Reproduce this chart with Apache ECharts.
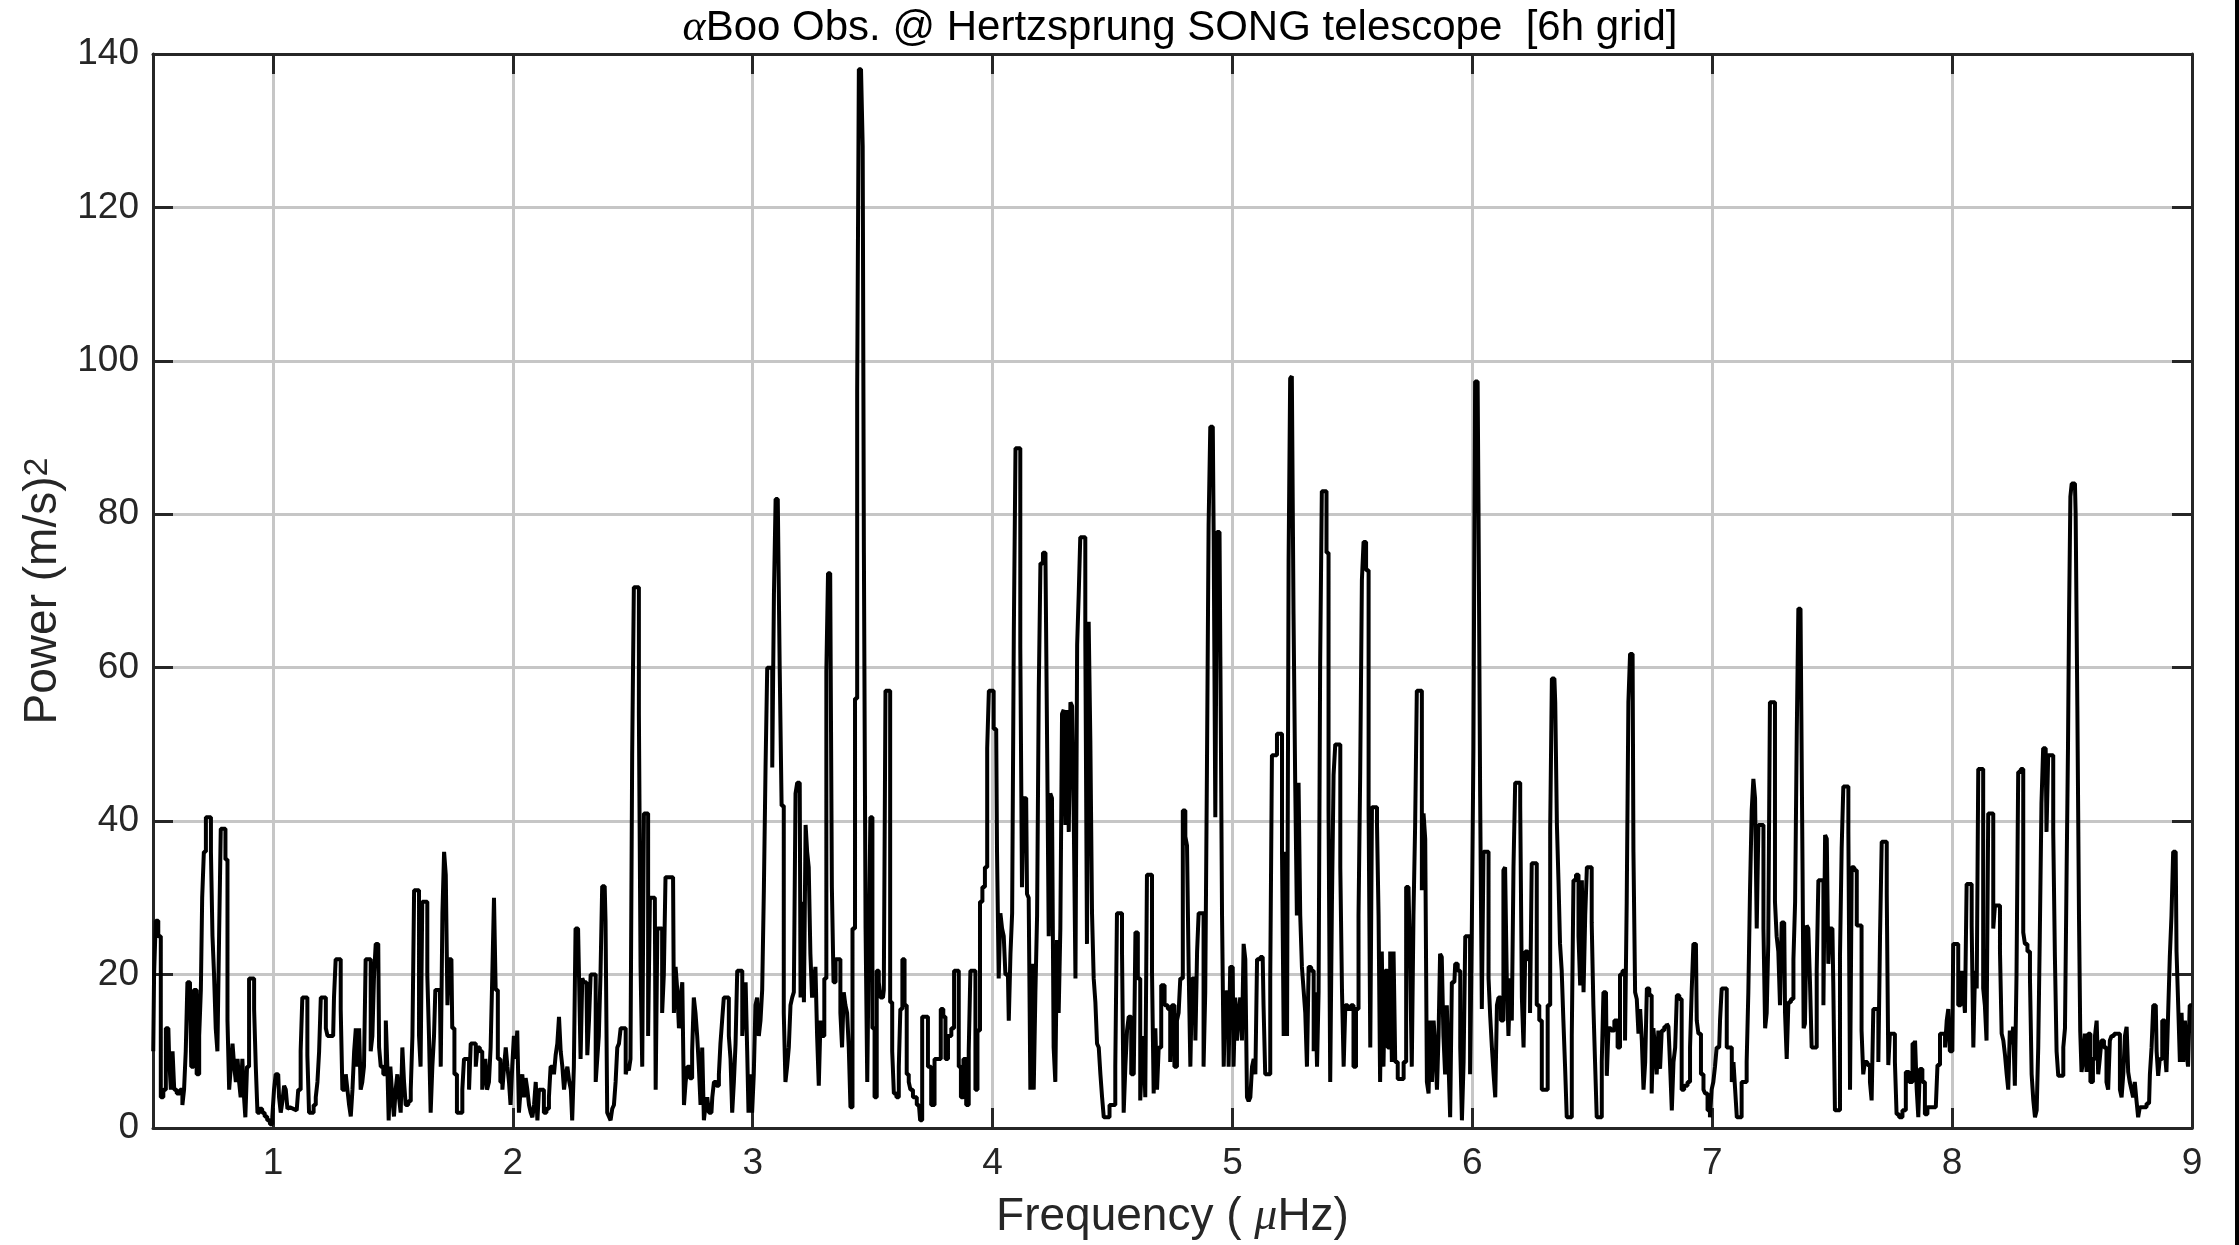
<!DOCTYPE html>
<html><head><meta charset="utf-8">
<script src="https://cdn.jsdelivr.net/npm/echarts@6/dist/echarts.min.js"></script>
<style>html,body{margin:0;padding:0;background:#fff}#c{width:2239px;height:1245px}</style>
</head><body><div id="c"></div>
<script>
const xTicks = [1, 2, 3, 4, 5, 6, 7, 8, 9];
const yTicks = [0, 20, 40, 60, 80, 100, 120, 140];
const xLabel = 'Frequency ( {mu|μ}Hz)';
const yLabel = 'Power (m/s){sup|2}';
// [frequency (µHz), power (m/s)^2]
const powerSpectrum = [
[0.501,10],[0.508,20],[0.515,27],[0.529,25],[0.536,4],[0.550,5],[0.557,13],[0.564,13],[0.571,9],[0.578,5],[0.585,10],[0.592,5],[0.606,4.5],[0.619,5],[0.626,3],[0.633,5],[0.640,10],[0.647,19],[0.654,19],[0.665,8],[0.675,18],[0.689,7],[0.696,12],[0.703,18],[0.707,30],[0.717,36],[0.724,40.5],[0.738,40.5],[0.745,36],[0.751,25],[0.758,20],[0.765,13],[0.772,10],[0.779,25],[0.786,39],[0.797,39],[0.807,35],[0.814,14],[0.821,5],[0.828,8],[0.835,11],[0.842,8],[0.849,6],[0.856,9],[0.862,6],[0.869,4],[0.876,9],[0.883,4],[0.887,1.4],[0.897,8],[0.904,19.5],[0.918,19.5],[0.925,15.5],[0.932,8],[0.939,2],[0.950,2.5],[0.960,2],[0.971,1.5],[0.981,1],[0.994,0.5],[1.001,1.5],[1.008,5],[1.015,7],[1.022,7],[1.029,4],[1.036,2],[1.043,3.5],[1.050,5.5],[1.057,5],[1.064,2.5],[1.071,2.7],[1.085,2.5],[1.099,2.3],[1.112,5],[1.119,10],[1.126,17],[1.140,17],[1.147,9.5],[1.154,2],[1.164,2],[1.175,3],[1.182,4],[1.189,6],[1.196,10],[1.203,17],[1.217,17],[1.224,13],[1.231,12],[1.251,12],[1.258,17],[1.265,22],[1.279,22],[1.286,15.5],[1.293,5],[1.300,5],[1.307,7],[1.314,5],[1.321,3],[1.328,1.5],[1.335,5],[1.342,10],[1.349,13],[1.356,8],
[1.3625,13],[1.369,5],[1.376,6],[1.383,8],[1.390,22],[1.404,22],[1.411,10],[1.418,12],[1.425,20],[1.432,24],[1.439,24],[1.446,10.5],[1.453,8],[1.467,7],[1.474,14],[1.480,8],[1.485,1],[1.494,8],[1.501,4],[1.508,1.5],[1.515,5],[1.522,7],[1.529,4],[1.536,2],[1.543,10.5],[1.550,6],[1.557,3],[1.571,3.5],[1.578,5],[1.585,12],[1.592,31],[1.606,31],[1.612,12],[1.619,8],[1.626,29.5],[1.640,29.5],[1.647,20],[1.654,12],[1.661,2],[1.668,8],[1.675,12],[1.679,18],[1.696,18],[1.703,8],[1.710,28],[1.717,36],[1.724,33],[1.731,16],[1.737,22],[1.744,22],[1.751,13],[1.762,7],[1.772,2],[1.786,2],[1.793,5],[1.800,9],[1.814,9],[1.821,5],[1.828,11],[1.842,11],[1.849,8],[1.856,10.5],[1.869,10],[1.876,5],[1.883,7],[1.888,9],[1.897,5],[1.904,6],[1.911,10.5],[1.918,20],[1.925,30],[1.932,18],[1.943,9],[1.953,6],[1.960,5],[1.967,8],[1.974,10.5],[1.981,8],[1.987,6],[1.994,3],[2.001,8],[2.008,12],[2.015,9],[2.022,12.7],[2.029,2],[2.036,5],[2.043,7],[2.050,4],[2.057,6.5],[2.064,5],[2.071,3],[2.078,2],[2.085,1.4],[2.092,3],[2.099,6],[2.106,1],[2.112,5],[2.126,5],[2.133,2],[2.147,2.5],[2.154,4],[2.161,8],[2.168,8],[2.175,7],[2.182,9.5],[2.189,11],[2.196,14.5],[2.203,10],[2.210,8],[2.217,5],[2.224,7],[2.231,8],[2.240,6],
[2.244,5],[2.251,1],[2.258,8],[2.265,26],[2.272,26],[2.279,20.5],[2.286,9],[2.293,19.5],[2.300,19],[2.307,19],[2.314,9.5],[2.321,14],[2.328,20],[2.342,20],[2.349,6],[2.355,9],[2.362,12],[2.369,20],[2.376,31.5],[2.383,31.5],[2.390,27],[2.397,2],[2.404,1.5],[2.411,1],[2.418,2.5],[2.425,3],[2.432,6],[2.439,10.5],[2.446,11],[2.453,13],[2.467,13],[2.474,7],[2.480,8],[2.487,7.5],[2.494,9],[2.501,48.6],[2.508,70.5],[2.522,70.5],[2.529,54],[2.536,21],[2.543,8],[2.550,41],[2.560,41],[2.568,12],[2.575,30],[2.592,30],[2.599,5],[2.606,26],[2.619,26],[2.626,15],[2.633,20],[2.640,32.7],[2.668,32.7],[2.675,15],[2.682,21],[2.689,18],[2.696,13],[2.703,17],[2.710,19],[2.717,3],[2.724,6],[2.731,8],[2.744,6.5],[2.751,10],[2.758,17],[2.765,15],[2.772,12],[2.779,8],[2.786,3],[2.793,10.5],[2.800,1],[2.807,3],[2.814,4],[2.821,2],[2.828,2],[2.835,4],[2.842,6],[2.856,5.5],[2.862,7],[2.869,11],[2.876,14],[2.883,17],[2.897,17],[2.904,12],[2.911,9],[2.918,2],[2.925,6],[2.932,11],[2.939,20.5],[2.953,20.5],[2.960,12],[2.967,16],[2.974,19],[2.980,10],[2.985,2],[2.994,7],[3.001,2],[3.008,7],[3.015,16],[3.022,17],[3.029,12],[3.036,14],[3.043,18],[3.050,31],[3.057,47],[3.064,60],[3.078,60],[3.085,47],[3.092,69.5],[3.099,82],[3.110,82],
[3.115,60],[3.126,42],[3.133,15],[3.140,6],[3.147,8],[3.154,10.5],[3.161,16],[3.168,17],[3.175,17.7],[3.182,43.6],[3.189,45],[3.196,45],[3.203,17],[3.210,29.5],[3.217,16.4],[3.224,39.5],[3.230,36],[3.237,34],[3.244,22.7],[3.251,17],[3.258,19],[3.265,21],[3.272,12],[3.279,5.5],[3.286,14],[3.293,12],[3.304,19.5],[3.310,59.5],[3.318,72.3],[3.328,72.3],[3.332,31.4],[3.342,19],[3.349,22],[3.362,22],[3.369,15],[3.376,10.5],[3.383,17.7],[3.390,16],[3.397,15],[3.404,10.5],[3.411,2.7],[3.421,26],[3.432,56],[3.439,96],[3.446,138],[3.457,138],[3.460,128],[3.467,75],[3.474,26],[3.481,6],[3.487,24],[3.494,40.5],[3.504,13],[3.512,4],[3.522,20.5],[3.529,19],[3.536,17],[3.543,17],[3.550,18],[3.557,57],[3.568,57],[3.578,16.4],[3.585,10],[3.592,4.5],[3.606,4],[3.612,8],[3.619,15.5],[3.629,22],[3.637,16],[3.647,7],[3.654,6],[3.661,5],[3.675,4],[3.693,3],[3.703,1],[3.710,14.5],[3.724,14.5],[3.737,8],[3.751,3],[3.765,9],[3.779,9],[3.789,15.5],[3.800,14.5],[3.807,9],[3.821,12],[3.835,13],[3.844,20.5],[3.856,20.5],[3.862,8],[3.874,4],[3.883,9],[3.897,3],[3.904,10],[3.911,20.5],[3.925,20.5],[3.932,5],[3.942,12.7],[3.953,29.5],[3.962,31.4],[3.974,34],[3.981,49.5],[3.988,57],[4.001,57],
[4.008,52],[4.015,52],[4.022,36],[4.029,19.5],[4.036,28],[4.043,26],[4.050,25],[4.057,20],[4.064,20],[4.071,14],[4.078,22.7],[4.085,28],[4.092,64.5],[4.099,88.6],[4.112,88.6],[4.119,62.7],[4.126,31.4],[4.133,43],[4.140,43],[4.147,30.5],[4.154,30],[4.161,5],[4.168,21.4],[4.175,5],[4.182,17.7],[4.189,27.7],[4.196,57],[4.203,73.6],[4.217,75],[4.224,74],[4.231,49.5],[4.237,25],[4.244,43.6],[4.251,43],[4.258,10.5],[4.265,6],[4.272,24.5],[4.279,15],[4.286,26],[4.293,54],[4.300,54.5],[4.307,39.5],[4.314,54.5],[4.321,38.6],[4.328,55.5],[4.335,55],[4.342,40],[4.349,19.5],[4.356,63],[4.362,69.5],[4.369,77],[4.383,77],[4.390,64],[4.397,24],[4.404,66],[4.411,50.5],[4.418,28],[4.425,19.5],[4.432,16.4],[4.439,11],[4.446,10.5],[4.453,7],[4.460,4],[4.467,1.4],[4.481,1.4],[4.494,3],[4.508,3],[4.515,8],[4.522,28],[4.536,28],[4.543,23],[4.550,2],[4.557,8],[4.564,12.7],[4.571,14.5],[4.585,7],[4.592,7],[4.599,25.5],[4.612,19.5],[4.619,3.6],[4.626,8.6],[4.633,12],[4.640,4],[4.647,33],[4.661,33],[4.668,20.5],[4.675,4.5],[4.682,13],[4.689,5],[4.696,10.5],[4.710,18.6],[4.724,16],[4.737,15.5],[4.744,8.6],[4.751,16],[4.765,8],[4.772,14],[4.779,15],[4.786,19.5],[4.800,41.4],[4.807,38],[4.814,36.8],[4.821,20.5],[4.828,8],[4.835,19.5],[4.842,19.5],[4.849,11.4],[4.856,23],[4.862,28],
[4.869,28],[4.876,28],[4.883,8],[4.890,17.7],[4.897,46.4],[4.904,78.6],[4.911,91.4],[4.918,91.4],[4.925,77.7],[4.932,40.5],[4.939,77.7],[4.946,77.7],[4.953,61.4],[4.960,27.7],[4.967,8],[4.974,17.7],[4.981,17.7],[4.987,8],[4.994,21],[5.001,21],[5.008,8],[5.015,17],[5.022,11.4],[5.029,15],[5.036,17],[5.043,11.4],[5.050,24],[5.057,22],[5.064,4],[5.071,3.5],[5.078,4],[5.085,8],[5.092,9],[5.099,7],[5.106,22],[5.126,22.3],[5.133,16],[5.140,7],[5.154,7],[5.161,19.5],[5.168,48.6],[5.182,48.6],[5.189,51.4],[5.203,51.4],[5.210,36],[5.217,12],[5.224,36],[5.231,12],[5.237,74],[5.244,97.7],[5.251,98],[5.258,67],[5.265,45],[5.272,27.7],[5.279,45],[5.286,27.7],[5.293,21],[5.300,18],[5.307,15],[5.314,8],[5.321,21],[5.335,20.5],[5.342,10],[5.349,17.7],[5.356,8],[5.362,17.7],[5.369,60.5],[5.376,83],[5.387,83],[5.397,75],[5.404,41.4],[5.411,6],[5.418,29],[5.425,46],[5.432,50],[5.446,50],[5.453,34],[5.460,18],[5.467,8],[5.474,16],[5.487,15.5],[5.501,16],[5.508,8],[5.522,15.5],[5.529,27.7],[5.536,46.4],[5.543,71.4],[5.550,76.4],[5.564,72.7],[5.571,41.4],[5.578,10.5],[5.585,41.8],[5.599,41.8],[5.606,39.5],[5.612,27.7],[5.619,6],[5.626,23],[5.633,8],[5.640,20.5],[5.654,10.5],[5.661,23],[5.668,8.6],[5.675,23],[5.682,8.6],[5.696,6.4],[5.710,6.4],[5.717,8.6],[5.731,31.4],[5.737,31],
[5.744,21.4],[5.751,8],[5.758,27.7],[5.765,39.5],[5.772,57],[5.786,57],[5.793,31],[5.800,41],[5.807,37.7],[5.814,6],[5.821,4.5],[5.828,14],[5.835,6],[5.842,14],[5.849,10.5],[5.856,5],[5.862,12],[5.869,22.7],[5.876,22.3],[5.883,12],[5.890,7],[5.897,16],[5.904,8.6],[5.911,1.4],[5.918,19],[5.925,19],[5.932,21.4],[5.946,20.5],[5.953,10.5],[5.960,1],[5.967,8.6],[5.974,25],[5.987,25],[5.994,7],[6.001,25],[6.008,49.5],[6.015,97.3],[6.022,97.3],[6.029,81.4],[6.036,43.2],[6.043,15.5],[6.050,36],[6.064,36],[6.071,19.5],[6.078,14.5],[6.085,10.5],[6.092,7],[6.099,4],[6.106,16],[6.112,17],[6.126,14],[6.133,33.6],[6.140,34],[6.147,19.5],[6.154,12],[6.161,19.5],[6.168,14],[6.175,34],[6.182,45],[6.196,45],[6.203,42],[6.210,17],[6.217,10.5],[6.224,23],[6.237,22],[6.244,15],[6.251,34.5],[6.265,34.5],[6.272,16],[6.286,14],[6.293,5],[6.307,5],[6.321,16],[6.328,39],[6.335,58.6],[6.342,58.6],[6.349,55.5],[6.356,39.5],[6.362,32.3],[6.369,24],[6.376,20.5],[6.383,14],[6.390,8],[6.397,1.4],[6.411,1.4],[6.418,12],[6.425,32.3],[6.439,33],[6.446,25],[6.453,18.6],[6.460,32.3],[6.467,17.7],[6.474,27.7],[6.481,34],[6.494,34],[6.501,26.8],[6.508,16],[6.515,8.6],[6.522,1.4],[6.536,1.4],[6.543,8.6],[6.550,17.7],[6.557,17.7],[6.564,6.8],[6.571,13],[6.585,12.7],[6.599,14],[6.612,10.5],[6.619,20],[6.633,20.5],[6.640,11.4],[6.647,29.5],[6.654,55.5],
[6.661,61.8],[6.668,61.8],[6.675,36],[6.682,17.7],[6.689,16.8],[6.696,12.3],[6.703,15.5],[6.710,11.4],[6.717,5],[6.724,8.6],[6.731,18.2],[6.744,17.3],[6.751,4.5],[6.758,13],[6.765,10.5],[6.772,7],[6.779,12.7],[6.786,7.7],[6.793,12.7],[6.807,13.2],[6.814,13.6],[6.821,13.2],[6.828,8],[6.835,2.3],[6.842,8.6],[6.849,10.5],[6.856,17.3],[6.869,16.8],[6.876,5],[6.890,5.5],[6.904,6],[6.911,10.5],[6.918,18],[6.925,24],[6.932,24],[6.939,14],[6.946,12.3],[6.960,7],[6.967,5],[6.974,4.5],[6.987,2.3],[6.994,1.4],[7.001,5],[7.008,6],[7.015,8],[7.022,10.5],[7.029,10.5],[7.036,14],[7.043,18.2],[7.057,18.2],[7.064,10.5],[7.078,10.5],[7.085,6],[7.092,8.6],[7.099,5],[7.106,1.4],[7.119,1.4],[7.126,6],[7.140,6],[7.147,8.6],[7.154,17.7],[7.161,31],[7.168,41.4],[7.175,45.5],[7.182,43],[7.189,26],[7.196,39.5],[7.210,39.5],[7.217,26],[7.224,13],[7.230,15],[7.237,24],[7.244,55.5],[7.258,55.5],[7.265,29.5],[7.272,25],[7.279,23],[7.286,16],[7.293,26.8],[7.300,26.8],[7.307,15],[7.314,9],[7.321,16.4],[7.335,16.8],[7.342,22],[7.349,29.5],[7.356,51.8],[7.362,67.7],[7.374,67.7],[7.379,33.6],[7.383,13],[7.390,13.6],[7.397,26.4],[7.404,26],[7.411,19],[7.418,10.5],[7.432,10.5],[7.439,20.5],[7.446,32.3],[7.460,32.3],[7.467,16],[7.474,38.2],[7.481,37.7],[7.487,21.4],
[7.494,26],[7.501,26],[7.508,19],[7.515,2.3],[7.529,2.3],[7.536,22.3],[7.543,36.4],[7.550,44.5],[7.564,44.5],[7.571,38.6],[7.578,5],[7.585,34],[7.599,33.6],[7.606,26.4],[7.619,26.4],[7.626,12.7],[7.633,7],[7.640,8.6],[7.654,8.2],[7.661,6],[7.668,3.6],[7.675,15.5],[7.689,15.5],[7.696,8.6],[7.703,25],[7.710,37.3],[7.724,37.3],[7.731,30.5],[7.737,8.2],[7.744,12.3],[7.758,12.3],[7.765,8.6],[7.772,1.8],[7.786,1.4],[7.800,2.3],[7.814,7.3],[7.828,6],[7.842,11],[7.849,11.4],[7.856,5],[7.862,1.4],[7.869,7.7],[7.883,6],[7.890,1.8],[7.904,2.7],[7.932,2.7],[7.946,8.2],[7.953,12.3],[7.967,12.3],[7.974,10.5],[7.981,14],[7.987,15.5],[7.994,10],[8.001,10],[8.008,24],[8.022,24],[8.029,16],[8.036,16],[8.043,20.5],[8.050,18],[8.057,15],[8.064,31.8],[8.078,31.8],[8.085,26.4],[8.092,10.5],[8.099,20.5],[8.106,18.2],[8.112,46.8],[8.126,46.8],[8.133,18.2],[8.140,16],[8.147,11.4],[8.154,41],[8.168,41],[8.175,26],[8.182,29],[8.196,29],[8.203,23],[8.210,12.3],[8.217,11.4],[8.224,9.5],[8.231,7],[8.237,5],[8.244,12.7],[8.251,10.9],[8.258,13.2],[8.265,5.5],[8.272,20],[8.279,46.4],[8.293,46.8],[8.300,25.5],[8.307,24],[8.321,23],[8.328,19.5],[8.335,7],[8.342,3.6],[8.349,1.4],[8.356,2.3],[8.362,10.5],
[8.369,25],[8.376,42.3],[8.383,49.5],[8.390,49.5],[8.397,38.6],[8.404,48.6],[8.418,48.6],[8.425,38.6],[8.432,22.3],[8.439,10],[8.446,6.8],[8.460,6.8],[8.467,10.5],[8.474,13],[8.481,34],[8.485,49.5],[8.490,66.8],[8.496,82.3],[8.501,84],[8.512,84],[8.518,80],[8.526,55],[8.532,27.3],[8.536,12.7],[8.543,7.3],[8.550,9],[8.557,12.3],[8.564,7.3],[8.571,12.3],[8.582,6],[8.592,9],[8.599,12],[8.606,14],[8.612,7],[8.619,9],[8.626,11.4],[8.640,10.5],[8.647,6],[8.654,5],[8.661,11.4],[8.668,12],[8.682,12.3],[8.696,12.3],[8.703,5],[8.710,4],[8.717,7],[8.724,12],[8.731,13.2],[8.737,7.3],[8.744,6],[8.751,5],[8.758,4],[8.765,6],[8.772,3.6],[8.779,1.4],[8.786,2.7],[8.800,2.7],[8.821,3.2],[8.828,7],[8.835,10.5],[8.842,16],[8.849,16],[8.856,10],[8.862,6.8],[8.869,9],[8.883,14],[8.890,10],[8.897,7.3],[8.904,14.9],[8.911,22.3],[8.918,27.7],[8.925,36],[8.932,36],[8.939,23],[8.946,16],[8.953,8.6],[8.960,15],[8.967,8.6],[8.974,14],[8.980,10],[8.987,8],[8.994,16],[9.0,16]
];

const FONT = '"Liberation Sans", Arial, Helvetica, sans-serif';
const SERIF = '"Liberation Serif", "DejaVu Serif", serif';
const FRAME = '#262626';
const GRIDC = '#c6c6c6';
const frameLine = { show: true, onZero: false, lineStyle: { color: FRAME, width: 3 } };
const tickStyle = (vals) => ({ show: true, inside: true, length: 20, customValues: vals, lineStyle: { color: FRAME, width: 3 } });

const chart = echarts.init(document.getElementById('c'), null, { renderer: 'canvas' });
chart.setOption({
  animation: false,
  backgroundColor: '#fff',
  title: {
    text: '{a|α}Boo Obs. @ Hertzsprung SONG telescope  [6h grid]',
    left: 1180, top: 6, textAlign: 'center', padding: 0,
    textStyle: {
      fontFamily: FONT, fontSize: 42, fontWeight: 'normal', color: '#000',
      rich: { a: { fontFamily: SERIF, fontStyle: 'italic', fontSize: 44, color: '#000' } }
    }
  },
  grid: { left: 153, right: 47, top: 54, bottom: 108, containLabel: false },
  xAxis: [{
    type: 'value', position: 'bottom', min: 0.5, max: 9,
    axisLine: frameLine, axisTick: tickStyle(xTicks),
    axisLabel: { customValues: xTicks, color: FRAME, fontSize: 37, fontFamily: FONT, margin: 17 },
    splitLine: { show: true, lineStyle: { color: GRIDC, width: 3 } },
    name: xLabel, nameLocation: 'middle', nameGap: 66,
    nameTextStyle: { fontFamily: FONT, fontSize: 46, color: FRAME,
      rich: { mu: { fontFamily: SERIF, fontStyle: 'italic', fontSize: 46, color: FRAME } } }
  }, {
    type: 'value', position: 'top', min: 0.5, max: 9,
    axisLine: frameLine, axisTick: tickStyle(xTicks),
    axisLabel: { show: false }, splitLine: { show: false }
  }],
  yAxis: [{
    type: 'value', position: 'left', min: 0, max: 140, interval: 20,
    axisLine: frameLine, axisTick: { show: true, inside: true, length: 20, lineStyle: { color: FRAME, width: 3 } },
    axisLabel: { color: FRAME, fontSize: 37, fontFamily: FONT, margin: 14 },
    splitLine: { show: true, lineStyle: { color: GRIDC, width: 3 } },
    name: yLabel, nameLocation: 'middle', nameGap: 84, nameRotate: 90,
    nameTextStyle: { fontFamily: FONT, fontSize: 46, color: FRAME,
      rich: { sup: { fontFamily: FONT, fontSize: 34, color: FRAME, verticalAlign: 'top' } } }
  }, {
    type: 'value', position: 'right', min: 0, max: 140, interval: 20,
    axisLine: frameLine, axisTick: { show: true, inside: true, length: 20, lineStyle: { color: FRAME, width: 3 } },
    axisLabel: { show: false }, splitLine: { show: false }
  }],
  graphic: [{
    type: 'rect', right: 0, top: 0, shape: { width: 4, height: 1245 },
    style: { fill: '#000' }, silent: true
  }],
  series: [{
    type: 'line', xAxisIndex: 0, yAxisIndex: 0,
    data: powerSpectrum, step: 'middle', showSymbol: false, symbol: 'none',
    lineStyle: { color: '#000', width: 4 }, z: 3, clip: true
  }]
});
</script>
</body></html>
